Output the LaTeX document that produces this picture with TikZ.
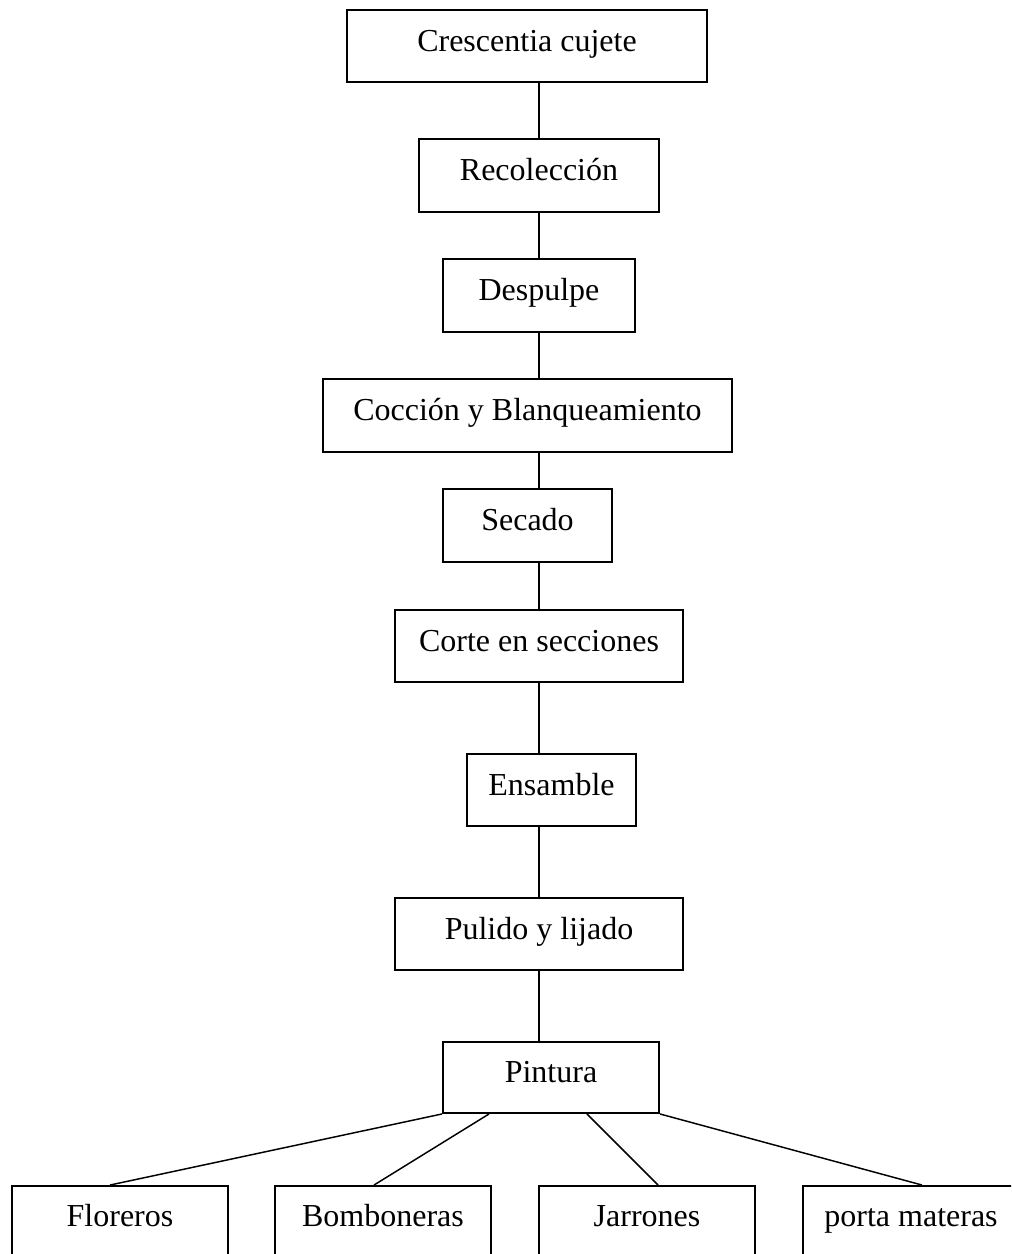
\documentclass[tikz,border=0pt]{standalone}
\usepackage{fontspec}
\setmainfont{Liberation Serif}
\usetikzlibrary{calc}

\tikzset{
  paso/.style={draw, line width=0.75pt, inner sep=0pt, align=center,
    text height=8pt, text depth=4.2pt,
    font=\fontsize{12}{14}\selectfont},
  enlace/.style={line width=0.55pt}
}

\begin{document}
\begin{tikzpicture}[x=0.75pt,y=0.75pt,yscale=-0.5,xscale=0.5]
            %set diagram frame: 1011 x 1254, bottom row runs off the page
            \clip (0,0) rectangle (1011,1254);

            % Text Node
            \node [paso, minimum width=135pt, minimum height=27pt] (crescentia) at (527,46) {Crescentia cujete};
            % Text Node
            \node [paso, minimum width=90pt, minimum height=27.4pt] (recoleccion) at (539,175.5) {Recolección};
            % Text Node
            \node [paso, minimum width=72pt, minimum height=27.4pt] (despulpe) at (539,295.5) {Despulpe};
            % Text Node
            \node [paso, minimum width=153.4pt, minimum height=27.4pt] (coccion) at (527.5,415.5) {Cocción y Blanqueamiento};
            % Text Node
            \node [paso, minimum width=63.4pt, minimum height=27.4pt] (secado) at (527.5,525.5) {Secado};
            % Text Node
            \node [paso, minimum width=108pt, minimum height=27pt] (corte) at (539,646) {Corte en secciones};
            % Text Node
            \node [paso, minimum width=63.4pt, minimum height=27pt] (ensamble) at (551.5,790) {Ensamble};
            % Text Node
            \node [paso, minimum width=108pt, minimum height=27pt] (pulido) at (539,934) {Pulido y lijado};
            % Text Node
            \node [paso, minimum width=81pt, minimum height=26.6pt] (pintura) at (551,1077.5) {Pintura};

            % Text Node
            \node [paso, minimum width=81pt, minimum height=26.6pt] (floreros) at (120,1221.5) {Floreros};
            % Text Node
            \node [paso, minimum width=81pt, minimum height=26.6pt] (bomboneras) at (383,1221.5) {Bomboneras};
            % Text Node
            \node [paso, minimum width=81pt, minimum height=26.6pt] (jarrones) at (647,1221.5) {Jarrones};
            % Text Node
            \node [paso, minimum width=81pt, minimum height=26.6pt] (porta) at (911,1221.5) {porta materas};

            %Straight Lines: main spine
            \draw [enlace] (recoleccion.north) -- (recoleccion.north |- crescentia.south) ;
            \draw [enlace] (recoleccion.south) -- (despulpe.north) ;
            \draw [enlace] (despulpe.south) -- (despulpe.south |- coccion.north) ;
            \draw [enlace] (despulpe.south |- coccion.south) -- (despulpe.south |- secado.north) ;
            \draw [enlace] (corte.north) -- (corte.north |- secado.south) ;
            \draw [enlace] (corte.south) -- (corte.south |- ensamble.north) ;
            \draw [enlace] (pulido.north) -- (pulido.north |- ensamble.south) ;
            \draw [enlace] (pulido.south) -- (pulido.south |- pintura.north) ;

            %Straight Lines: branches
            \draw [enlace] (pintura.south west) -- ($(floreros.north)+(-10,0)$) ;
            \draw [enlace] ($(pintura.south west)+(47,0)$) -- ($(bomboneras.north)+(-9,0)$) ;
            \draw [enlace] ($(pintura.south west)+(145,0)$) -- ($(jarrones.north)+(11,0)$) ;
            \draw [enlace] (pintura.south east) -- ($(porta.north)+(11,0)$) ;

\end{tikzpicture}
\end{document}
